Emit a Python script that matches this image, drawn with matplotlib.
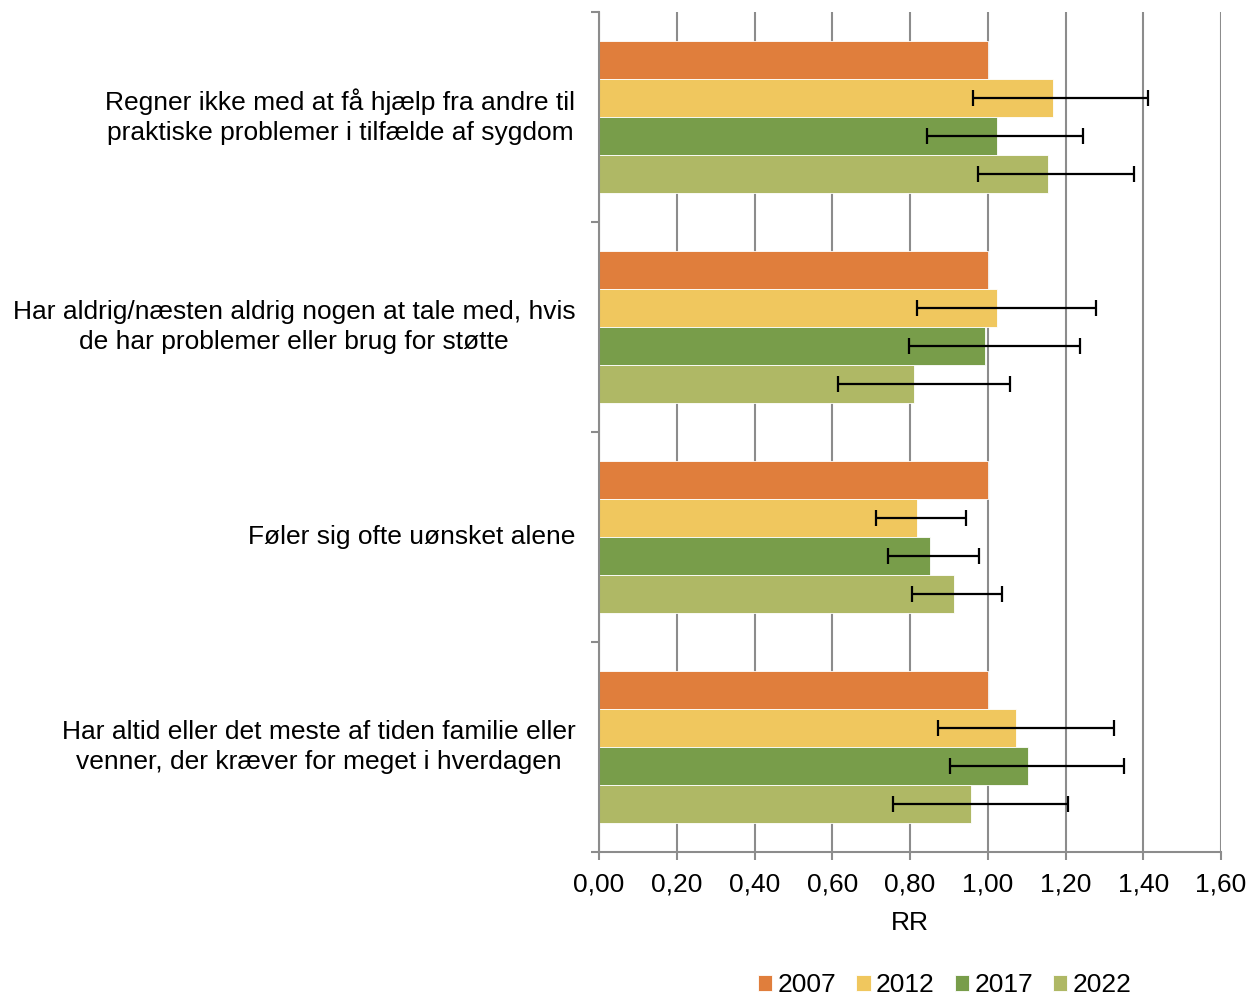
import numpy as np
import matplotlib.pyplot as plt

plt.rcParams['font.family'] = ['Liberation Sans', 'DejaVu Sans']

categories = [
    "Regner ikke med at få hjælp fra andre til\npraktiske problemer i tilfælde af sygdom",
    "Har aldrig/næsten aldrig nogen at tale med, hvis\nde har problemer eller brug for støtte",
    "Føler sig ofte uønsket alene",
    "Har altid eller det meste af tiden familie eller\nvenner, der kræver for meget i hverdagen",
]
years = ["2007", "2012", "2017", "2022"]
colors = ["#E07E3C", "#F0C75E", "#789D4A", "#AFB865"]

rr = {
    "2007": [1.00, 1.00, 1.00, 1.00],
    "2012": [1.168, 1.024, 0.818, 1.073],
    "2017": [1.024, 0.993, 0.851, 1.104],
    "2022": [1.155, 0.810, 0.913, 0.957],
}
ci_low = {
    "2012": [0.962, 0.818, 0.713, 0.872],
    "2017": [0.844, 0.797, 0.743, 0.903],
    "2022": [0.975, 0.615, 0.805, 0.756],
}
ci_high = {
    "2012": [1.412, 1.278, 0.944, 1.325],
    "2017": [1.245, 1.237, 0.977, 1.350],
    "2022": [1.376, 1.057, 1.037, 1.206],
}

fig = plt.figure(figsize=(12.58, 9.96), dpi=100)
ax = fig.add_axes([0.4762, 0.1446, 0.4944, 0.8434])

y = np.arange(len(categories))
h = 0.181
for j, yr in enumerate(years):
    pos = y - 1.5 * h + j * h
    vals = np.array(rr[yr])
    ax.barh(pos, vals, height=h, color=colors[j], edgecolor='white',
            linewidth=0.6, label=yr, zorder=2)
    if yr in ci_low:
        lo = vals - np.array(ci_low[yr])
        hi = np.array(ci_high[yr]) - vals
        ax.errorbar(vals, pos, xerr=[lo, hi], fmt='none', ecolor='black',
                    elinewidth=1.6, capsize=5.5, capthick=1.6, zorder=3)

ax.set_xlim(0, 1.6)
ax.set_ylim(len(categories) - 0.5, -0.5)
ax.set_xticks(np.arange(0, 1.61, 0.2))
ax.set_xticklabels([f"{v:.2f}".replace('.', ',') for v in np.arange(0, 1.61, 0.2)])
ax.xaxis.grid(True, color='#8c8c8c', linewidth=1.5, zorder=0)
ax.set_axisbelow(True)

ax.set_yticks(y)
ax.set_yticklabels(categories, multialignment='center', linespacing=1.3, va='center')
ax.set_yticks(np.arange(-0.5, len(categories)), minor=True)
ax.tick_params(axis='y', which='major', length=0, pad=17, labelsize=19)
ax.tick_params(axis='y', which='minor', length=6, width=1.5, color='#8c8c8c')
ax.tick_params(axis='x', length=6, width=1.5, color='#8c8c8c', labelsize=19, pad=9)

for s in ['top', 'right']:
    ax.spines[s].set_visible(False)
for s in ['left', 'bottom']:
    ax.spines[s].set_color('#8c8c8c')
    ax.spines[s].set_linewidth(1.5)

ax.set_xlabel("RR", fontsize=19, labelpad=10)

fig.legend(loc='center', bbox_to_anchor=(0.751, 0.011), ncol=4, frameon=False,
           fontsize=19, handlelength=0.55, handleheight=0.55, handletextpad=0.2,
           columnspacing=0.75)

fig.savefig('out.png', dpi=100)
